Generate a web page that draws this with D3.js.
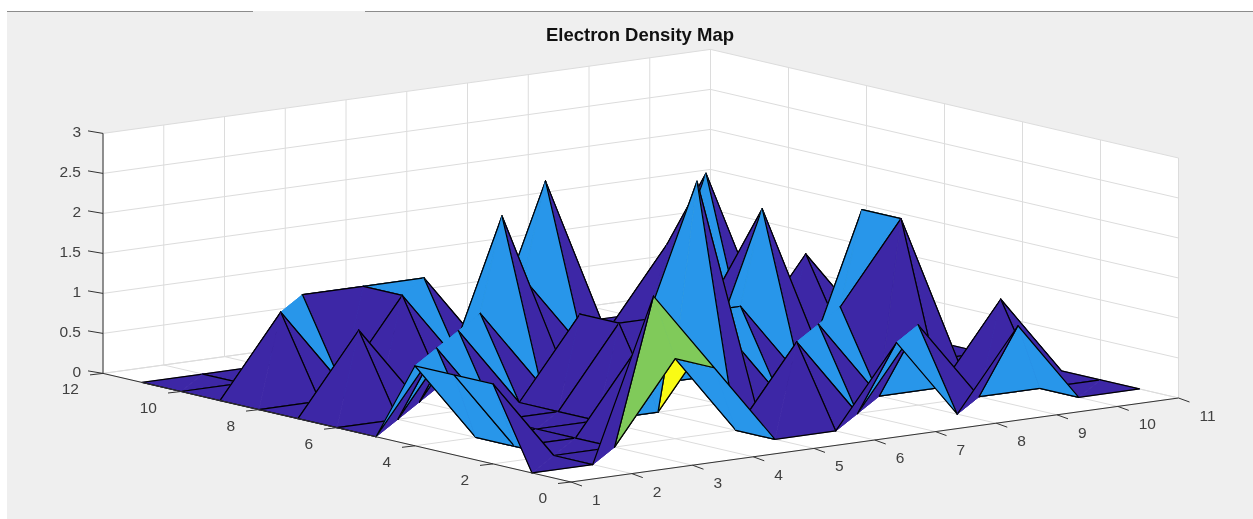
<!DOCTYPE html>
<html>
<head>
<meta charset="utf-8">
<script src="https://cdnjs.cloudflare.com/ajax/libs/d3/7.8.5/d3.min.js"></script>
<style>
html,body{margin:0;padding:0;background:#fff;}
svg{display:block;filter:blur(0.35px);}
text{font-family:"Liberation Sans",Arial,sans-serif;}
</style>
</head>
<body>
<svg id="chart" width="1253" height="519"></svg>
<script>
const chartTitle = "Electron Density Map";
const xGrid = [1,2,3,4,5,6,7,8,9,10,11];
const yGrid = [1,2,3,4,5,6,7,8,9,10,11];
const xTicks = [1,2,3,4,5,6,7,8,9,10,11];
const yTicks = [0,2,4,6,8,10,12];
const zTicks = [0,0.5,1,1.5,2,2.5,3];
const zAtY1  = [0,0,2,1,0,0,1,0,1,0,0];
const zAtY2  = [1,0,0,1,0,1,0,1,0,0,0];
const zAtY3  = [1,0,0,1,3,0,1,0,0,1,0];
const zAtY4  = [1,0,0,0,0,1,0,1,2,0,0];
const zAtY5  = [0,1,0,0,1,1,1,0,2,0,0];
const zAtY6  = [0,0,1,0,1,0,0,2,0,0,0];
const zAtY7  = [0,1,0,1,0,0,0,1,0,0,0];
const zAtY8  = [0,0,0,0,2,0,0,1,0,1,0];
const zAtY9  = [0,1,0,1,0,1,0,0,2,0,0];
const zAtY10 = [0,0,1,1,1,0,2,0,1,0,0];
const zAtY11 = [0,0,0,0,0,0,0,0,0,0,0];
const zRows = [zAtY1,zAtY2,zAtY3,zAtY4,zAtY5,zAtY6,zAtY7,zAtY8,zAtY9,zAtY10,zAtY11];
const colorLevels = [0,1,2,3];
const colorValues = ["#3d27a6","#2896ea","#80ca5a","#f9fb15"];

const svg = d3.select("#chart");
const origin = [571,482];
const xToSx = d3.scaleLinear().domain([1,11]).range([0,607.5]);
const xToSy = d3.scaleLinear().domain([1,11]).range([0,-84]);
const yToSx = d3.scaleLinear().domain([0,12]).range([0,-468]);
const yToSy = d3.scaleLinear().domain([0,12]).range([0,-108.6]);
const zToSy = d3.scaleLinear().domain([0,3]).range([0,-240]);
const color = d3.scaleOrdinal().domain(colorLevels).range(colorValues);
const P = (x,y,z=0)=>[origin[0]+xToSx(x)+yToSx(y), origin[1]+xToSy(x)+yToSy(y)+zToSy(z)];
const line = d3.line();

// figure background
svg.append("rect").attr("x",7).attr("y",11).attr("width",1246).attr("height",508).attr("fill","#efefef");
svg.append("line").attr("x1",7).attr("x2",253).attr("y1",11.5).attr("y2",11.5).attr("stroke","#8c8c8c");
svg.append("line").attr("x1",365).attr("x2",1253).attr("y1",11.5).attr("y2",11.5).attr("stroke","#8c8c8c");

// walls and floor
const X0=1,X1=11,Y0=0,Y1=12,Z1=3;
const panels=[
  [P(X0,Y0),P(X1,Y0),P(X1,Y1),P(X0,Y1)],
  [P(X0,Y1),P(X1,Y1),P(X1,Y1,Z1),P(X0,Y1,Z1)],
  [P(X1,Y0),P(X1,Y1),P(X1,Y1,Z1),P(X1,Y0,Z1)]
];
svg.append("g").selectAll("path").data(panels).join("path")
  .attr("d",d=>line(d)+"Z").attr("fill","#fff");

// grid lines
const gridSegs=[];
xTicks.forEach(x=>{gridSegs.push([P(x,Y0),P(x,Y1)]);gridSegs.push([P(x,Y1),P(x,Y1,Z1)]);});
yTicks.forEach(y=>{gridSegs.push([P(X0,y),P(X1,y)]);gridSegs.push([P(X1,y),P(X1,y,Z1)]);});
zTicks.forEach(z=>{gridSegs.push([P(X0,Y1,z),P(X1,Y1,z)]);gridSegs.push([P(X1,Y0,z),P(X1,Y1,z)]);});
svg.append("g").selectAll("path").data(gridSegs).join("path")
  .attr("d",line).attr("fill","none").attr("stroke","#dcdcdc").attr("stroke-width",1);

// surface: far cells first, each quad split along (x,y)-(x+1,y+1)
const surfaceParts=[];
for(let j=yGrid.length-2;j>=0;j--){
  for(let i=xGrid.length-2;i>=0;i--){
    const v=(a,b)=>P(xGrid[a],yGrid[b],zRows[b][a]);
    const c=color(zRows[j][i]);
    const A=v(i,j),B=v(i+1,j),C=v(i+1,j+1),D=v(i,j+1);
    surfaceParts.push({tri:[A,C,D],edges:[[D,C],[A,D]],c});
    surfaceParts.push({tri:[A,B,C],edges:[[A,B],[B,C]],c});
  }
}
const parts=svg.append("g").selectAll("g").data(surfaceParts).join("g");
parts.append("path").attr("d",d=>line(d.tri)+"Z").attr("fill",d=>d.c)
  .attr("stroke",d=>d.c).attr("stroke-width",0.8).attr("stroke-linejoin","round");
parts.append("path").attr("d",d=>d.edges.map(e=>line(e)).join(""))
  .attr("fill","none").attr("stroke","#000").attr("stroke-width",1.2).attr("stroke-linecap","round");

// axis rulers
const axisColor="#333";
const rulers=[[P(X0,Y1),P(X0,Y1,Z1)],[P(X0,Y0),P(X0,Y1)],[P(X0,Y0),P(X1,Y0)]];
svg.append("g").selectAll("path").data(rulers).join("path")
  .attr("d",line).attr("fill","none").attr("stroke",axisColor).attr("stroke-width",1);

const ticks=[];
zTicks.forEach(z=>{const p=P(X0,Y1,z);ticks.push([p,[p[0]-15,p[1]-2.5]]);});
yTicks.forEach(y=>{const p=P(X0,y);ticks.push([p,[p[0]-13,p[1]+1.5]]);});
xTicks.forEach(x=>{const p=P(x,Y0);ticks.push([p,[p[0]+11,p[1]+4]]);});
svg.append("g").selectAll("path").data(ticks).join("path")
  .attr("d",line).attr("fill","none").attr("stroke",axisColor).attr("stroke-width",1);

const labelAttrs=s=>s.attr("font-size",15.5).attr("fill","#404040").attr("dominant-baseline","central");
svg.append("g").selectAll("text").data(zTicks).join("text")
  .text(d=>d).attr("text-anchor","end")
  .attr("x",d=>P(X0,Y1,d)[0]-22).attr("y",d=>P(X0,Y1,d)[1]-1.5).call(labelAttrs);
svg.append("g").selectAll("text").data(yTicks).join("text")
  .text(d=>d).attr("text-anchor","end")
  .attr("x",d=>P(X0,d)[0]-24).attr("y",d=>P(X0,d)[1]+15.5).call(labelAttrs);
svg.append("g").selectAll("text").data(xTicks).join("text")
  .text(d=>d).attr("text-anchor","start")
  .attr("x",d=>P(d,Y0)[0]+21).attr("y",d=>P(d,Y0)[1]+17.5).call(labelAttrs);

svg.append("text").text(chartTitle).attr("x",640).attr("y",34.5)
  .attr("text-anchor","middle").attr("dominant-baseline","central")
  .attr("font-size",18.5).attr("font-weight","bold").attr("fill","#111");
</script>
</body>
</html>
